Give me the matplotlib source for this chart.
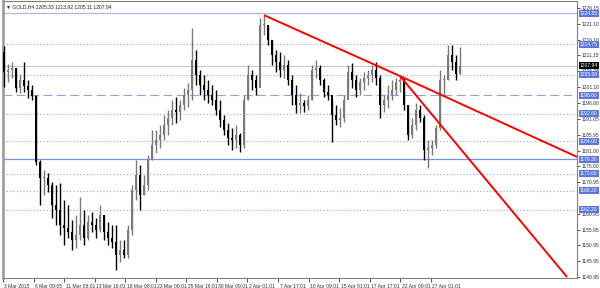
import numpy as np
import matplotlib
matplotlib.use('Agg')
from matplotlib import pyplot as plt
from matplotlib import transforms

plt.rcParams['font.family'] = ['Liberation Sans', 'DejaVu Sans']

title = "GOLD,H4 1205.33 1213.92 1205.11 1207.94"

# H4 bars (prices)
first_open = 1212.2
high = [1214.1, 1208.4, 1209.1, 1207.2, 1205.3, 1209.1, 1203.4, 1201.8, 1198.6, 1178.0,
        1174.8, 1173.9, 1171.0, 1170.1, 1170.7, 1165.3, 1163.8, 1159.0, 1160.6, 1166.3,
        1162.2, 1160.6, 1161.5, 1159.6, 1163.8, 1160.6, 1158.4, 1157.4, 1157.4, 1152.7,
        1152.7, 1157.4, 1170.1, 1178.0, 1176.4, 1173.3, 1179.6, 1187.5, 1187.5, 1189.1,
        1192.3, 1193.9, 1197.0, 1198.0, 1197.0, 1200.8, 1202.4, 1219.8, 1212.9, 1206.5,
        1204.9, 1203.4, 1201.8, 1200.2, 1197.0, 1192.3, 1189.7, 1188.1, 1189.1, 1186.6,
        1198.6, 1208.1, 1206.5, 1204.9, 1223.0, 1223.9, 1220.8, 1216.0, 1212.9, 1212.2,
        1211.3, 1209.7, 1204.9, 1201.8, 1199.2, 1197.0, 1198.6, 1208.1, 1209.7, 1208.1,
        1204.0, 1201.8, 1197.0, 1195.4, 1194.5, 1198.6, 1208.1, 1208.7, 1204.9, 1204.0,
        1205.9, 1206.5, 1208.1, 1209.1, 1204.9, 1198.6, 1201.8, 1203.4, 1204.0, 1204.9,
        1204.3, 1195.4, 1191.3, 1196.1, 1195.4, 1192.3, 1184.3, 1184.3, 1189.1, 1206.5,
        1204.9, 1214.4, 1214.4, 1211.3, 1213.92]
low = [1201.1, 1202.7, 1204.0, 1199.6, 1199.2, 1199.6, 1197.7, 1197.0, 1176.4, 1163.8,
       1166.9, 1167.9, 1159.6, 1157.4, 1154.3, 1151.1, 1153.3, 1149.5, 1150.1, 1152.7,
       1151.1, 1152.7, 1155.2, 1153.3, 1155.2, 1152.7, 1151.1, 1150.1, 1143.2, 1145.7,
       1147.0, 1147.0, 1154.3, 1165.3, 1162.2, 1166.9, 1168.5, 1178.0, 1180.2, 1181.8,
       1184.3, 1185.9, 1189.1, 1189.7, 1190.7, 1193.9, 1194.8, 1197.0, 1201.8, 1198.6,
       1197.0, 1196.1, 1195.4, 1192.3, 1188.5, 1185.9, 1182.8, 1181.2, 1181.8, 1180.5,
       1181.8, 1197.0, 1200.2, 1198.6, 1212.9, 1217.6, 1214.4, 1208.1, 1205.9, 1204.3,
       1204.0, 1201.8, 1195.4, 1192.9, 1192.9, 1193.2, 1193.9, 1197.0, 1204.0, 1201.8,
       1198.0, 1197.0, 1183.7, 1189.1, 1188.5, 1190.0, 1198.6, 1200.8, 1198.0, 1198.6,
       1200.2, 1201.8, 1202.7, 1201.8, 1191.3, 1193.2, 1194.5, 1197.0, 1198.6, 1199.6,
       1193.9, 1184.3, 1185.0, 1187.5, 1190.0, 1178.0, 1175.5, 1179.6, 1181.8, 1187.5,
       1198.6, 1203.4, 1206.5, 1203.4, 1205.11]
close = [1205.9, 1206.5, 1207.2, 1200.8, 1203.4, 1201.5, 1200.2, 1198.3, 1177.4, 1172.3,
         1172.3, 1170.1, 1163.8, 1162.2, 1157.4, 1156.5, 1155.2, 1152.7, 1154.3, 1157.4,
         1153.3, 1158.4, 1157.4, 1155.8, 1160.6, 1155.2, 1153.3, 1152.0, 1147.9, 1149.5,
         1147.9, 1155.8, 1168.5, 1173.3, 1166.9, 1170.1, 1178.0, 1182.8, 1184.3, 1185.9,
         1189.1, 1191.3, 1193.9, 1193.2, 1195.4, 1198.6, 1200.2, 1209.7, 1204.9, 1201.8,
         1200.2, 1198.6, 1197.0, 1193.9, 1190.7, 1187.5, 1185.0, 1184.3, 1185.9, 1182.8,
         1197.0, 1204.9, 1203.4, 1200.8, 1220.8, 1220.8, 1216.0, 1211.3, 1209.1, 1206.5,
         1208.1, 1203.4, 1198.6, 1195.4, 1196.1, 1195.1, 1197.0, 1206.5, 1207.2, 1203.4,
         1199.6, 1198.6, 1192.3, 1190.7, 1191.3, 1197.0, 1205.9, 1203.4, 1200.2, 1202.7,
         1204.0, 1204.9, 1206.5, 1204.0, 1195.4, 1197.0, 1198.6, 1200.2, 1202.7, 1203.4,
         1195.4, 1185.9, 1189.1, 1193.9, 1191.3, 1181.2, 1181.8, 1182.8, 1188.1, 1203.4,
         1203.4, 1211.3, 1209.1, 1205.33, 1207.94]

date_labels = ["3 Mar 2015", "6 Mar 09:05", "11 Mar 08:01", "13 Mar 16:01", "18 Mar 08:01",
               "23 Mar 00:01", "25 Mar 16:01", "30 Mar 09:01", "2 Apr 01:01", "7 Apr 17:01",
               "10 Apr 09:01", "15 Apr 01:01", "17 Apr 17:01", "22 Apr 09:01", "27 Apr 01:01"]

price_ticks = [1226.15, 1221.10, 1216.10, 1211.15, 1206.05, 1201.10, 1196.00, 1191.05,
               1185.95, 1181.00, 1176.00, 1170.95, 1160.95, 1155.95, 1150.95, 1145.95, 1140.95]

# horizontal levels
solid_levels = [1224.55, 1178.30]
dotted_levels = [1214.75, 1205.00, 1192.60, 1184.00, 1173.60, 1168.20, 1162.20]
dashed_levels = [1198.60]
bid = 1207.94

# trend lines (bar index, price)
tl_x0 = [65, 99, 99]
tl_y0 = [1223.9, 1204.6, 1204.6]
tl_x1 = [99, 143.25, 140.75]
tl_y1 = [1204.6, 1179.0, 1140.95]

opens = [first_open] + close[:-1]

fs = 3.6

fig = plt.figure(figsize=(6, 2.88), dpi=100)
ax = fig.add_axes([3 / 600, 10 / 288, 574 / 600, 277 / 288])

n = len(close)
x = np.arange(n)
o = np.array(opens)
c = np.array(close)
cols = np.where(c >= o, '#7a7a7a', '#000000')
ax.vlines(x, low, high, colors=cols, lw=1.0, zorder=3)
ax.bar(x, np.maximum(np.abs(c - o), 0.3), bottom=np.minimum(o, c), width=0.7,
       color=cols, lw=0, zorder=3)

line_blue = '#8ea4ee'
for lv in dotted_levels:
    ax.axhline(lv, color=line_blue, lw=0.8, ls=(0, (1, 2)), zorder=1)
for lv in dashed_levels:
    ax.axhline(lv, color=line_blue, lw=0.8, ls=(0, (8, 4)), zorder=1)
ax.axhline(solid_levels[0], color='#a9b9e8', lw=0.9, zorder=1)
ax.axhline(solid_levels[1], color='#7890e6', lw=0.9, zorder=1)
ax.axhline(bid, color='#c8c8c8', lw=0.8, zorder=1)

for a, b, cc, d in zip(tl_x0, tl_y0, tl_x1, tl_y1):
    ax.plot([a, cc], [b, d], color='red', lw=1.4, zorder=4, solid_capstyle='butt')

ax.set_xlim(-0.25, 143.25)
ax.set_ylim(1140.63, 1228.38)

# price scale
ax.yaxis.tick_right()
ax.set_yticks(price_ticks)
ax.set_yticklabels([f"{p:.2f}" for p in price_ticks])
ax.tick_params(axis='y', labelsize=fs, length=2, pad=1.5, width=0.6, colors='#303030')

# time scale
ax.set_xticks(-0.25 + 7.64 * np.arange(len(date_labels)))
ax.set_xticklabels(date_labels)
ax.tick_params(axis='x', labelsize=fs, length=3, pad=1.5, width=0.6, colors='#303030')
shift = transforms.ScaledTranslation(1.5 / 100, 0, fig.dpi_scale_trans)
for lab in ax.get_xticklabels():
    lab.set_ha('left')
    lab.set_transform(lab.get_transform() + shift)

for sp in ax.spines.values():
    sp.set_color('#808080')
    sp.set_linewidth(0.8)
ax.spines['left'].set_linewidth(2)
ax.spines['left'].set_color('#a0a0a0')

def box(val, fc):
    ax.annotate(f"{val:.2f}", xy=(1, val), xycoords=('axes fraction', 'data'),
                xytext=(3, 0), textcoords='offset pixels', ha='left', va='center',
                fontsize=fs, color='white', zorder=6, annotation_clip=False,
                bbox=dict(boxstyle='square,pad=0.2', fc=fc, ec='none'))

for lv in solid_levels + dotted_levels + dashed_levels:
    box(lv, '#5a78dc')
box(bid, '#000000')

ax.annotate("\u25bc " + title, xy=(0, 1), xycoords='axes fraction', xytext=(3, -6),
            textcoords='offset pixels', ha='left', va='center', fontsize=fs, color='#202020')

fig.savefig('out.png', dpi=100, facecolor='white')
